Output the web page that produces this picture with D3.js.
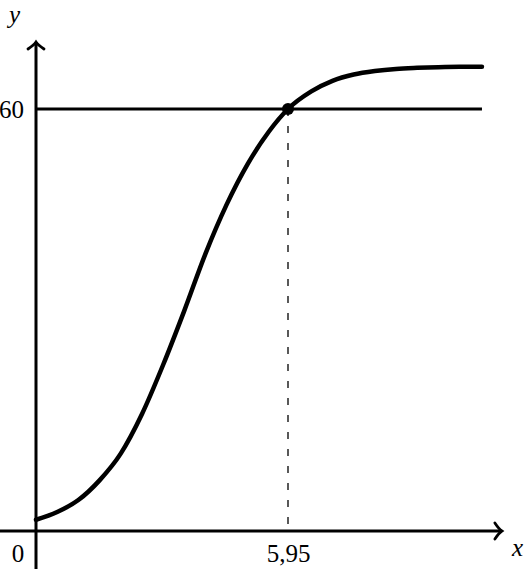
<!DOCTYPE html>
<html>
<head>
<meta charset="utf-8">
<script src="https://cdn.jsdelivr.net/npm/d3@7"></script>
<style>
  html, body { margin: 0; padding: 0; background: #fff; }
  text { font-family: "Liberation Serif", "Times New Roman", serif; }
</style>
</head>
<body>
<div class="svg"></div>
<script>
// curve points
var xValues = [0, 0.5, 1, 1.5, 2, 2.5, 3, 3.5, 4, 4.5, 5, 5.5, 5.95, 6.5, 7, 7.5, 8, 8.5, 9, 9.5, 10, 10.53];
var yValues = [1.6, 2.7, 4.4, 7.2, 11.0, 16.6, 23.6, 31.3, 39.4, 46.4, 52.2, 56.8, 60, 62.5, 64.0, 64.9, 65.4, 65.7, 65.85, 65.95, 66, 66];

// marked values
var levelY = 60;
var markX = 5.95;
var xTickLabels = ["5,95"];
var yTickLabels = ["60"];

var width = 530, height = 569;
var svg = d3.select(".svg").append("svg").attr("width", width).attr("height", height);

// 0 -> 36px, 5.95 -> 288px ; 0 -> 531px, 60 -> 109px
var x = d3.scaleLinear().domain([0, 11]).range([36, 36 + 11 * 252 / 5.95]);
var y = d3.scaleLinear().domain([0, 60]).range([531, 109]);

var xMin = x.invert(0), yMin = y.invert(569), yMax = y.invert(42);

// axes lines
svg.append("line").attr("x1", x(xMin)).attr("y1", y(0)).attr("x2", x(11)).attr("y2", y(0))
    .attr("stroke", "#000").attr("stroke-width", 3);
svg.append("line").attr("x1", x(0)).attr("y1", y(yMin)).attr("x2", x(0)).attr("y2", y(yMax))
    .attr("stroke", "#000").attr("stroke-width", 3);

// arrow heads (latex style)
var ax = x(11), ay = y(0);
svg.append("path")
    .attr("d", "M" + (ax - 7) + "," + (ay - 8) + " Q" + (ax - 3) + "," + (ay - 2) + " " + ax + "," + ay +
               " Q" + (ax - 3) + "," + (ay + 2) + " " + (ax - 7) + "," + (ay + 8))
    .attr("fill", "none").attr("stroke", "#000").attr("stroke-width", 2.8).attr("stroke-linecap", "round");
var bx = x(0), by = y(yMax);
svg.append("path")
    .attr("d", "M" + (bx - 8) + "," + (by + 7) + " Q" + (bx - 2) + "," + (by + 3) + " " + bx + "," + by +
               " Q" + (bx + 2) + "," + (by + 3) + " " + (bx + 8) + "," + (by + 7))
    .attr("fill", "none").attr("stroke", "#000").attr("stroke-width", 2.8).attr("stroke-linecap", "round");

// horizontal level line
svg.append("line").attr("x1", x(0)).attr("y1", y(levelY)).attr("x2", x(d3.max(xValues))).attr("y2", y(levelY))
    .attr("stroke", "#000").attr("stroke-width", 3);

// dashed vertical
svg.append("line").attr("x1", x(markX)).attr("y1", y(levelY)).attr("x2", x(markX)).attr("y2", y(0))
    .attr("stroke", "#000").attr("stroke-width", 1.3).attr("stroke-dasharray", "7,10");

// curve
var pts = xValues.map(function(d, i) { return [d, yValues[i]]; });
var line = d3.line().x(function(d) { return x(d[0]); }).y(function(d) { return y(d[1]); }).curve(d3.curveMonotoneX);
svg.append("path").datum(pts).attr("d", line)
    .attr("fill", "none").attr("stroke", "#000").attr("stroke-width", 4.5).attr("stroke-linecap", "round").attr("stroke-linejoin", "round");

// point
svg.append("circle").attr("cx", x(markX)).attr("cy", y(levelY)).attr("r", 6).attr("fill", "#000");

// tick labels via axes
var xAxis = d3.axisBottom(x).tickValues([markX]).tickSize(0).tickFormat(function(d, i) { return xTickLabels[i]; });
var gx = svg.append("g").attr("transform", "translate(0," + y(0) + ")").call(xAxis);
gx.select(".domain").remove();
gx.selectAll("text").attr("font-size", 25).attr("font-family", "Liberation Serif").attr("dy", null).attr("y", 31).attr("fill", "#000");

var yAxis = d3.axisLeft(y).tickValues([levelY]).tickSize(0).tickFormat(function(d, i) { return yTickLabels[i]; });
var gy = svg.append("g").attr("transform", "translate(" + x(0) + ",0)").call(yAxis);
gy.select(".domain").remove();
gy.selectAll("text").attr("font-size", 25).attr("font-family", "Liberation Serif").attr("x", -12).attr("dy", "0.33em").attr("fill", "#000");

svg.append("text").attr("x", 18).attr("y", 562).attr("text-anchor", "middle").attr("font-size", 25).text("0");
svg.append("text").attr("x", 512).attr("y", 556).attr("font-size", 25).attr("font-style", "italic").text("x");
svg.append("text").attr("x", 9).attr("y", 23).attr("font-size", 25).attr("font-style", "italic").text("y");
</script>
</body>
</html>
